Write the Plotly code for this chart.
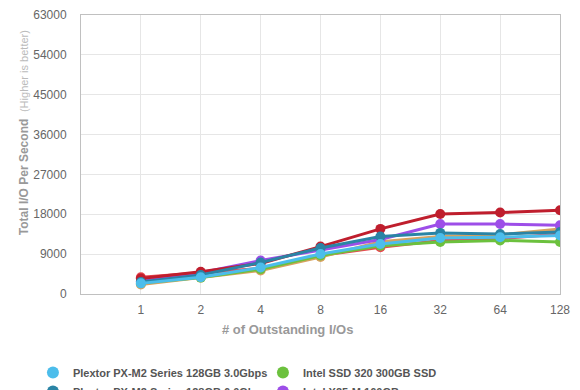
import plotly.graph_objects as go

categories = ["1", "2", "4", "8", "16", "32", "64", "128"]
y_ticks = [0, 9000, 18000, 27000, 36000, 45000, 54000, 63000]

series_names = [
    "Plextor PX-M2 Series 128GB 3.0Gbps",
    "Intel SSD 320 300GB SSD",
    "Plextor PX-M2 Series 128GB 6.0Gbps",
    "Intel X25-M 160GB",
    "OCZ Vertex 3 120GB",
    "Crucial m4 128GB",
    "Corsair Force 3 120GB",
]

plextor_3g = [2400, 3800, 6000, 9050, 11300, 12650, 12800, 13200]
intel_320 = [2500, 3700, 5600, 8700, 10900, 11750, 12100, 11750]
plextor_6g = [2700, 4300, 7100, 10400, 13000, 13800, 13550, 14000]
intel_x25m = [2900, 4800, 7550, 10000, 12300, 15800, 15800, 15500]
ocz_vertex = [3500, 5000, 6900, 10700, 14700, 18050, 18400, 18900]
crucial_m4 = [2150, 3700, 5300, 8350, 11800, 13000, 13400, 14700]
corsair = [3800, 4700, 5750, 8700, 10550, 12100, 12500, 13550]

colors = {
    "Plextor PX-M2 Series 128GB 3.0Gbps": "#4cbdeb",
    "Intel SSD 320 300GB SSD": "#6cc13e",
    "Plextor PX-M2 Series 128GB 6.0Gbps": "#2a84a5",
    "Intel X25-M 160GB": "#9d4ee8",
    "OCZ Vertex 3 120GB": "#bf1e2d",
    "Crucial m4 128GB": "#d7a25f",
    "Corsair Force 3 120GB": "#e8474f",
}
values = {
    "Plextor PX-M2 Series 128GB 3.0Gbps": plextor_3g,
    "Intel SSD 320 300GB SSD": intel_320,
    "Plextor PX-M2 Series 128GB 6.0Gbps": plextor_6g,
    "Intel X25-M 160GB": intel_x25m,
    "OCZ Vertex 3 120GB": ocz_vertex,
    "Crucial m4 128GB": crucial_m4,
    "Corsair Force 3 120GB": corsair,
}
# drawing order (last on top)
draw_order = [
    "Corsair Force 3 120GB",
    "Crucial m4 128GB",
    "Intel SSD 320 300GB SSD",
    "Intel X25-M 160GB",
    "OCZ Vertex 3 120GB",
    "Plextor PX-M2 Series 128GB 6.0Gbps",
    "Plextor PX-M2 Series 128GB 3.0Gbps",
]

fig = go.Figure()
for name in draw_order:
    rank = series_names.index(name) + 1
    fig.add_trace(go.Scatter(
        x=categories, y=values[name], name=name, mode="lines",
        line=dict(color=colors[name], width=3),
        legendgroup=name, showlegend=False,
    ))
    fig.add_trace(go.Scatter(
        x=categories, y=values[name], name=name, mode="markers",
        marker=dict(color=colors[name], size=10, symbol="circle"),
        legendgroup=name, showlegend=True, legendrank=rank,
    ))

font_family = "Liberation Sans, Arial, sans-serif"
fig.update_layout(
    width=580, height=390,
    margin=dict(l=73, r=28, t=7, b=104, autoexpand=False),
    paper_bgcolor="white", plot_bgcolor="white",
    font=dict(family=font_family, size=12, color="#666666"),
    showlegend=True,
    legend=dict(
        orientation="h", xref="container", yref="container",
        x=0.043, y=0.1026, xanchor="left", yanchor="top",
        entrywidth=185, entrywidthmode="pixels",
        font=dict(size=11, color="#555555", weight="bold"),
        itemsizing="constant", traceorder="normal",
        bgcolor="rgba(0,0,0,0)", tracegroupgap=0,
    ),
    xaxis=dict(
        type="category", range=[-1, 7],
        showgrid=True, gridcolor="#e6e6e6", gridwidth=1,
        showline=True, linecolor="#c0c0c0", linewidth=1, mirror=True,
        ticks="", ticklabelstandoff=5,
        tickfont=dict(size=12, color="#666666"),
        zeroline=False,
    ),
    yaxis=dict(
        range=[0, 63000], tickvals=y_ticks, ticktext=[str(v) for v in y_ticks],
        showgrid=True, gridcolor="#e6e6e6", gridwidth=1,
        showline=True, linecolor="#c0c0c0", linewidth=1, mirror=True,
        ticks="", ticklabelstandoff=11,
        tickfont=dict(size=12, color="#666666"),
        zeroline=False,
    ),
    annotations=[
        dict(
            text="<b>Total I/O Per Second</b>  <span style='font-size:11px;color:#bbbbbb'>(Higher is better)</span>",
            xref="paper", yref="paper", x=-0.119, y=0.58,
            xanchor="center", yanchor="middle", textangle=-90,
            showarrow=False, font=dict(size=12, color="#999999"),
        ),
        dict(
            text="<b># of Outstanding I/Os</b>",
            xref="paper", yref="paper", x=0.432, y=-0.127,
            xanchor="center", yanchor="middle",
            showarrow=False, font=dict(size=13, color="#999999"),
        ),
    ],
)

fig.write_html("out.html")
